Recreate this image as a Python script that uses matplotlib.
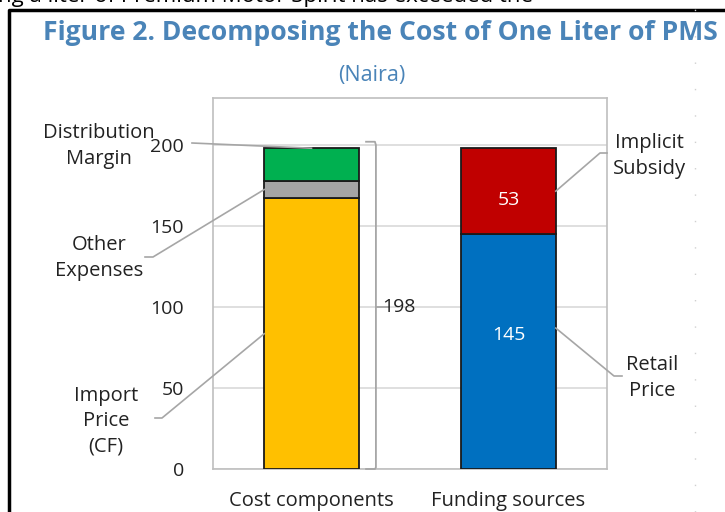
import matplotlib
matplotlib.use("Agg")
import matplotlib.pyplot as plt
from matplotlib.lines import Line2D

plt.rcParams['font.family'] = ['Open Sans', 'DejaVu Sans']

# data
categories = ['Cost components', 'Funding sources']
cost_names = ['Import\nPrice\n(CF)', 'Other\nExpenses', 'Distribution\nMargin']
cost_values = [167, 11, 20]
cost_colors = ['#FFC000', '#A5A5A5', '#00B050']
fund_names = ['Retail\nPrice', 'Implicit\nSubsidy']
fund_values = [145, 53]
fund_colors = ['#0070C0', '#C00000']
yticks = [0, 50, 100, 150, 200]

W, H = 725, 512
fig = plt.figure(figsize=(W / 100, H / 100), dpi=100)
ax = fig.add_axes([213 / W, 1 - 469 / H, 394 / W, 371 / H])

bw = 0.48
bottom = 0
for v, c in zip(cost_values, cost_colors):
    ax.bar(0, v, bw, bottom=bottom, color=c, edgecolor='#1a1a1a', lw=1.3, zorder=3)
    bottom += v
total = bottom
bottom = 0
for v, c in zip(fund_values, fund_colors):
    ax.bar(1, v, bw, bottom=bottom, color=c, edgecolor='#1a1a1a', lw=1.3, zorder=3)
    bottom += v

# value labels inside funding bar
ax.text(1, fund_values[0] * 0.57, str(fund_values[0]), ha='center', va='center',
        color='white', fontsize=14)
ax.text(1, fund_values[0] + fund_values[1] * 0.4, str(fund_values[1]), ha='center',
        va='center', color='white', fontsize=14)

ax.set_xlim(-0.5, 1.5)
ax.set_ylim(0, 229)
ax.set_yticks(yticks)
ax.set_yticklabels([str(t) for t in yticks], fontsize=14, color='#222222')
ax.set_xticks([0, 1])
ax.set_xticklabels(categories, fontsize=14.5, color='#222222')
ax.tick_params(length=0)
ax.tick_params(axis='y', pad=21)
ax.tick_params(axis='x', pad=16)
ax.grid(axis='y', color='#D9D9D9', lw=1.2, zorder=0)
for s in ax.spines.values():
    s.set_color('#BFBFBF')
    s.set_linewidth(1.2)

# brace showing the total
bx = 0.327
gray = '#A6A6A6'
ax.plot([bx - 0.05, bx - 0.005, bx, bx, bx - 0.005, bx - 0.05],
        [total + 4, total + 4, total + 2, 1, 0, 0], color=gray, lw=1.3,
        clip_on=False, zorder=4)
ax.plot([bx, bx + 0.06], [total / 2 + 1, total / 2 + 1], color=gray, lw=1.3, zorder=4)
ax.text(bx + 0.115, total / 2 + 1, str(total), ha='center', va='center',
        fontsize=14, color='#222222', zorder=5)


def px(x, y):
    return x / W, 1 - y / H


def data_to_fig(x, y):
    dx, dy = ax.transData.transform((x, y))
    return dx / W, dy / H


def leader(points):
    xs = [p[0] for p in points]
    ys = [p[1] for p in points]
    fig.add_artist(Line2D(xs, ys, color=gray, lw=1.2, transform=fig.transFigure))


fig.canvas.draw()
# cost component leaders
leader([px(192, 143), data_to_fig(0, total)])
leader([px(145, 257), px(153, 257), data_to_fig(-bw / 2, cost_values[0] + cost_values[1] / 2)])
leader([px(155, 418), px(162, 418), data_to_fig(-bw / 2, cost_values[0] / 2)])
# funding leaders
leader([data_to_fig(1 + bw / 2, fund_values[0] + fund_values[1] / 2), px(600, 153), px(607, 153)])
leader([data_to_fig(1 + bw / 2, fund_values[0] * 0.6), px(614, 376), px(622, 376)])

lab = dict(ha='center', va='center', fontsize=14.5, color='#222222', linespacing=1.35)
fig.text(*px(99, 146), cost_names[2], **lab)
fig.text(*px(99, 258), cost_names[1], **lab)
fig.text(*px(106, 421), cost_names[0], **lab)
fig.text(*px(649, 156), fund_names[1], **lab)
fig.text(*px(652, 378), fund_names[0], **lab)

# title
title_blue = '#4A84B8'
fig.text(*px(380, 33), 'Figure 2. Decomposing the Cost of One Liter of PMS', ha='center',
         va='center', fontsize=19.1, fontweight='bold', color=title_blue)
fig.text(*px(372, 75), '(Naira)', ha='center', va='center', fontsize=15.5, color=title_blue)

# page fragments: cut text line, frame and dotted guide
fig.text(-2 / W, 1 - 2 / H, 'ng a liter of Premium Motor Spirit has exceeded the',
         ha='left', va='baseline', fontsize=16, color='black')
fig.add_artist(Line2D([9 / W, 9 / W, 1.0], [0, 1 - 10 / H, 1 - 10 / H], color='black',
                     lw=2.5, transform=fig.transFigure))
fig.add_artist(Line2D([695 / W, 695 / W], [0, 1], color='#D0D0D0', lw=1,
                      ls=(0, (1, 18)), transform=fig.transFigure))

fig.savefig('out.png', dpi=100)
